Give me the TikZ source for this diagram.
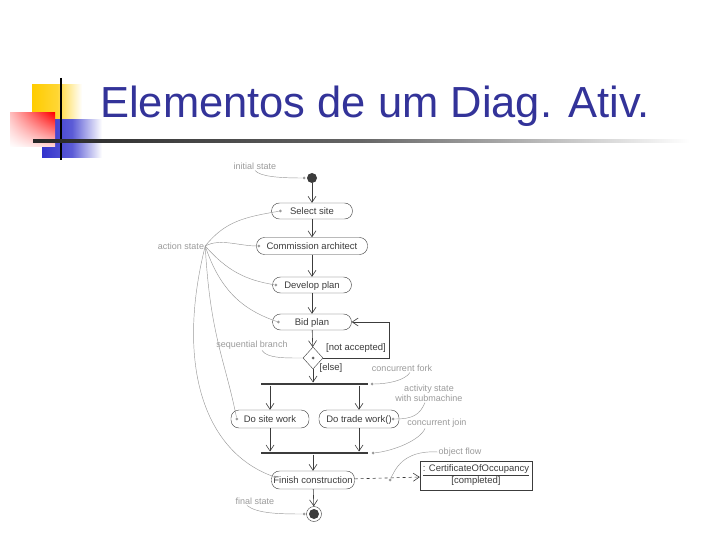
\documentclass[tikz,border=0pt]{standalone}
\usepackage{fontspec}
\setmainfont{Liberation Sans}
\usetikzlibrary{arrows.meta,shapes.geometric,positioning,shadings}
\definecolor{titleblue}{HTML}{333399}
\definecolor{ink}{HTML}{3C3C3C}
\definecolor{note}{HTML}{9A9A9A}
\definecolor{logoyellow}{HTML}{FFCC00}
\definecolor{logoblue}{HTML}{3333CC}

\begin{document}
\begin{tikzpicture}[
  x=1pt, y=-1pt,
  >={Straight Barb[length=6pt,width=8pt]},
  every node/.style={font=\fontsize{9.5}{11}\selectfont, text=ink},
  act/.style={draw=ink, rounded corners=8pt, minimum height=17pt, inner sep=0pt, text height=7.5pt, text depth=1pt},
  flow/.style={draw=ink, ->, line width=0.6pt},
  barnode/.style={fill=ink, minimum width=107pt, minimum height=2.6pt, inner sep=0pt},
  lbl/.style={text=note, font=\fontsize{9}{10}\selectfont, inner sep=1pt},
  pointer/.style={draw=note, line width=0.45pt},
  pin/.style={circle, fill=note, inner sep=0pt, minimum size=3pt},
]
\useasboundingbox (0,0) rectangle (720,540);

% Logo
\shade[left color=logoyellow, right color=white, middle color=logoyellow!80] (32,85) rectangle (82,120);
\shade[left color=logoblue, right color=white, middle color=logoblue!80] (42,120) rectangle (102,158);
\shade[upper right=red, upper left=red!25, lower right=red!15, lower left=white] (10,113) rectangle (55,147);
\draw[black, line width=1.8pt] (61,78) -- (61,160);
\shade[left color=black!85, right color=white, middle color=black!60] (33,140) rectangle (690,142.5);

% Title
\node[anchor=base west, inner sep=0pt, text=titleblue, font=\fontsize{43.5}{50}\selectfont] (title) at (100,118) {Elementos de um Diag. Ativ.};

% Activity states
\node[circle, fill=ink, minimum size=10pt, inner sep=0pt] (start) at (312,178) {};
\node[act, minimum width=81pt, minimum height=16pt] (select) at (312,211) {Select site};
\node[act, minimum width=111pt] (commission) at (312,246) {Commission architect};
\node[act, minimum width=79pt, minimum height=16pt] (develop) at (312,285) {Develop plan};
\node[act, minimum width=79pt, minimum height=16pt] (bid) at (312,322) {Bid plan};
\node[diamond, draw=ink, minimum width=20pt, minimum height=22pt, inner sep=0pt] (branch) at (313,358) {};
\node[circle, fill=ink!80, inner sep=0pt, minimum size=3pt] (branchdot) at (branch.center) {};
\node[barnode] (fork) at (314.5,384) {};
\node[act, minimum width=78pt, minimum height=18pt] (sitework) at (270,419) {Do site work};
\node[act, minimum width=80pt, minimum height=18pt] (tradework) at (359,419) {Do trade work()};
\node[barnode] (join) at (314.5,453) {};
\node[act, minimum width=83pt, minimum height=18pt] (finish) at (313,480) {Finish construction};
\node[circle, draw=ink, minimum size=15pt, inner sep=0pt] (final) at (314,514) {};
\node[circle, fill=ink, minimum size=10pt, inner sep=0pt] (finaldot) at (final.center) {};
\node[draw=ink, minimum width=112pt, minimum height=29pt, align=center, inner sep=2pt] (object) at (476,475.5)
  {\underline{: CertificateOfOccupancy}\\[1pt] [completed]};

% Flows
\draw[flow] (start) -- (select);
\draw[flow] (select) -- (commission);
\draw[flow] (commission) -- (develop);
\draw[flow] (develop) -- (bid);
\draw[flow] (bid) -- (branch);
\draw[flow] (branch.east) -- ++(66,0) |- (bid.east);
\draw[flow] (branch) -- (branch |- fork.north);
\draw[flow] (sitework |- fork.south) -- (sitework);
\draw[flow] (tradework |- fork.south) -- (tradework);
\draw[flow] (sitework) -- (sitework |- join.north);
\draw[flow] (tradework) -- (tradework |- join.north);
\draw[flow] (finish |- join.south) -- (finish);
\draw[flow] (finish) -- (final);
\draw[flow, dashed] (finish) -- (object);
\node[anchor=base] (notaccepted) at (356,350) {[not accepted]};
\node[anchor=base] (elselbl) at (331,370) {[else]};

% Pins
\node[pin] (pinstart) at (304,178) {};
\node[pin] (pinselect) at ([xshift=9pt]select.west) {};
\node[pin] (pincommission) at ([xshift=2.5pt]commission.west) {};
\node[pin] (pindevelop) at ([xshift=3.5pt]develop.west) {};
\node[pin] (pinbid) at ([xshift=6pt]bid.west) {};
\node[pin] (pinsite) at ([xshift=6pt]sitework.west) {};
\node[pin] (pintrade) at ([xshift=-6pt]tradework.east) {};
\node[pin] (pinfinish) at ([xshift=3.5pt,yshift=3pt]finish.west) {};
\node[pin] (pinfork) at ([xshift=4pt]fork.east) {};
\node[pin] (pinjoin) at ([xshift=5pt]join.east) {};
\node[pin] (pinobject) at (390,480) {};
\node[pin] (pinfinal) at (304,514) {};

% Notes
\node[lbl] (initlbl) at (255,166) {initial state};
\node[lbl] (actlbl) at (181,246) {action state};
\node[lbl] (seqlbl) at (252,345) {sequential branch};
\node[lbl] (forklbl) at (402,368) {concurrent fork};
\node[lbl, align=center] (sublbl) at (429,393) {activity state\\with submachine};
\node[lbl] (joinlbl) at (437,423) {concurrent join};
\node[lbl] (objlbl) at (460,452) {object flow};
\node[lbl] (finallbl) at (255,501) {final state};

\draw[pointer] (initlbl.south) .. controls +(5,6) and +(-25,0) .. (pinstart);
\draw[pointer] (actlbl.east) .. controls +(20,-25) and +(-35,6) .. (pinselect);
\draw[pointer] (actlbl.east) .. controls +(15,-8) and +(-20,0) .. (pincommission);
\draw[pointer] (actlbl.east) .. controls +(22,25) and +(-30,-5) .. (pindevelop);
\draw[pointer] (actlbl.east) .. controls +(15,45) and +(-35,-12) .. (pinbid);
\draw[pointer] (actlbl.east) .. controls +(5,90) and +(-12,-60) .. (pinsite);
\draw[pointer] (actlbl.east) .. controls +(-30,120) and +(-70,-25) .. (pinfinish);
\draw[pointer] ([xshift=10pt]seqlbl.south) .. controls +(5,8) and +(-18,0) .. (branch.west);
\draw[pointer] ([xshift=8pt]forklbl.south) .. controls +(-5,8) and +(15,0) .. (pinfork);
\draw[pointer] ([xshift=-4pt]sublbl.south) .. controls +(-5,12) and +(20,0) .. (pintrade);
\draw[pointer] ([xshift=-12pt]joinlbl.south) .. controls +(-5,12) and +(20,-2) .. (pinjoin);
\draw[pointer] (objlbl.west) .. controls +(-35,-2) and +(5,-10) .. (pinobject);
\draw[pointer] ([xshift=-8pt]finallbl.south) .. controls +(10,8) and +(-25,0) .. (pinfinal);
\end{tikzpicture}
\end{document}
